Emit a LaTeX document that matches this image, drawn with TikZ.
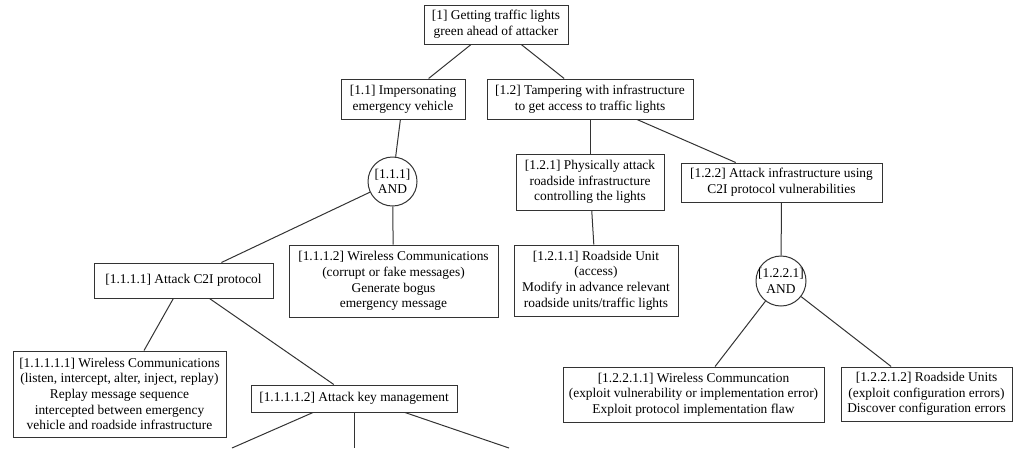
\documentclass[tikz,border=0pt]{standalone}
\usepackage{fontspec}
\setmainfont{Liberation Serif}
\begin{document}
\begin{tikzpicture}[x=1pt,y=-1pt,
  every node/.style={font=\fontsize{13.4}{15.6}\selectfont, text=black, align=center, inner sep=1pt},
  goal/.style={draw=black!80, line width=1pt, rectangle},
  andgate/.style={draw=black!80, line width=1pt, circle, inner sep=0pt, minimum size=49pt},
  link/.style={draw=black!80, line width=1pt}
]
\useasboundingbox (0,0) rectangle (1017,448);

% goals
\node[goal, minimum width=144pt, minimum height=39pt] (n1) at (496,24.5)
  {[1] Getting traffic lights\\green ahead of attacker};
\node[goal, minimum width=124pt, minimum height=40pt] (n11) at (403,99)
  {[1.1] Impersonating\\emergency vehicle};
\node[goal, minimum width=206pt, minimum height=40pt] (n12) at (590,99)
  {[1.2] Tampering with infrastructure\\to get access to traffic lights};
\node[andgate] (a111) at (392.5,181.5)
  {\makebox[0pt]{[1.1.1]}\\\makebox[0pt]{AND}};
\node[goal, minimum width=148pt, minimum height=56pt] (n121) at (590,182)
  {[1.2.1] Physically attack\\roadside infrastructure\\controlling the lights};
\node[goal, minimum width=201pt, minimum height=39pt] (n122) at (781.5,182.5)
  {[1.2.2] Attack infrastructure using\\C2I protocol vulnerabilities};
\node[goal, minimum width=179pt, minimum height=35pt] (n1111) at (183.5,280.5)
  {[1.1.1.1] Attack C2I protocol};
\node[goal, minimum width=209pt, minimum height=72pt] (n1112) at (393.5,281)
  {[1.1.1.2] Wireless Communications\\(corrupt or fake messages)\\Generate bogus\\emergency message};
\node[goal, minimum width=164pt, minimum height=71pt] (n1211) at (596,280.5)
  {[1.2.1.1] Roadside Unit\\(access)\\Modify in advance relevant\\roadside units/traffic lights};
\node[andgate, minimum size=50pt] (a1221) at (781,281)
  {\makebox[0pt]{[1.2.2.1]}\\\makebox[0pt]{AND}};
\node[goal, minimum width=213pt, minimum height=86pt] (n11111) at (119.5,394)
  {[1.1.1.1.1] Wireless Communications\\(listen, intercept, alter, inject, replay)\\Replay message sequence\\intercepted between emergency\\vehicle and roadside infrastructure};
\node[goal, minimum width=206pt, minimum height=27pt] (n11112) at (354,398.5)
  {[1.1.1.1.2] Attack key management};
\node[goal, minimum width=261pt, minimum height=55pt] (n12211) at (693.5,394.5)
  {[1.2.2.1.1] Wireless Communcation\\(exploit vulnerability or implementation error)\\Exploit protocol implementation flaw};
\node[goal, minimum width=171pt, minimum height=54pt] (n12212) at (926.5,394)
  {[1.2.2.1.2] Roadside Units\\(exploit configuration errors)\\Discover configuration errors};

% continuation of the subtree below the lower edge
\coordinate (cL) at (232,448);
\coordinate (cM) at (354,448);
\coordinate (cR) at (509,448);

% connectors
\draw[link] (n1) -- (n11);
\draw[link] (n1) -- (n12);
\draw[link] (n11) -- (a111);
\draw[link] (a111) -- (n1111);
\draw[link] (a111) -- (n1112);
\draw[link] (n12) -- (n121);
\draw[link] (n12) -- (n122);
\draw[link] (n121) -- (n1211);
\draw[link] (n122) -- (a1221);
\draw[link] (a1221) -- (n12211);
\draw[link] (a1221) -- (n12212);
\draw[link] (n1111) -- (n11111);
\draw[link] (n1111) -- (n11112);
\draw[link] ([xshift=-41pt]n11112.south) -- (cL);
\draw[link] (n11112.south) -- (cM);
\draw[link] ([xshift=51pt]n11112.south) -- (cR);
\end{tikzpicture}
\end{document}
